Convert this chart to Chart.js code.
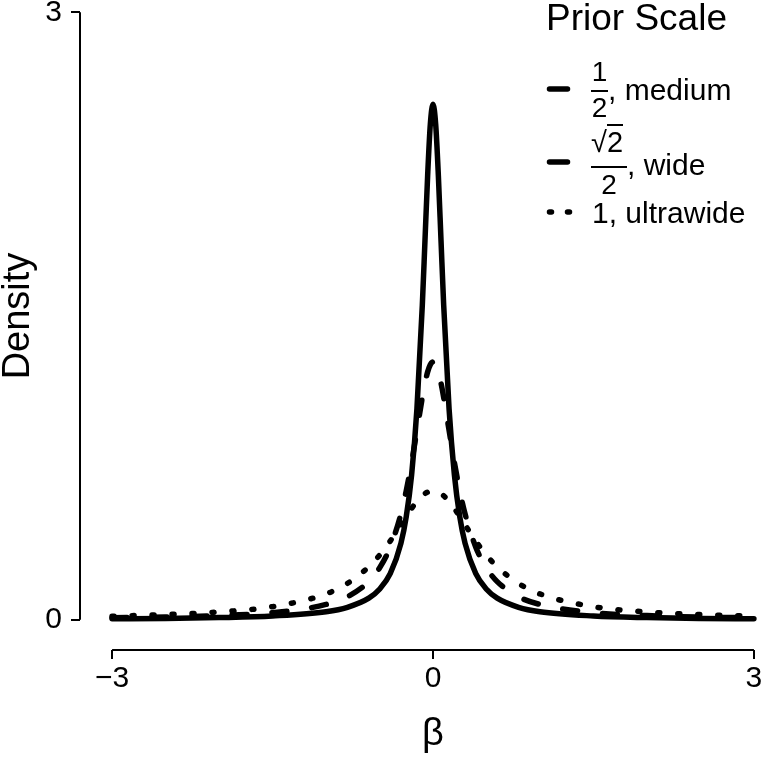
<!DOCTYPE html>
<html>
<head>
<meta charset="utf-8">
<script src="https://cdn.jsdelivr.net/npm/chart.js@4.4.1/dist/chart.umd.min.js"></script>
<style>
  html, body { margin: 0; padding: 0; background: #fff; overflow: hidden; }
  #wrap { position: relative; width: 761px; height: 758px; overflow: hidden; background: #fff; }
  #chart { position: absolute; left: 0; top: -18px; }
  .lg { position: absolute; font-family: 'Liberation Sans', Arial, Helvetica, sans-serif;
        line-height: 1; white-space: nowrap; color: #000; }
  .bar { position: absolute; background: #000; }
</style>
</head>
<body>
<div id="wrap">
  <canvas id="chart" width="800" height="776"></canvas>

  <!-- legend, drawn as plain text on top of the canvas -->
  <svg style="position:absolute;left:0;top:0" width="761" height="758">
    <line x1="549.5" y1="89" x2="567.5" y2="89" stroke="#000" stroke-width="5.5" stroke-linecap="round"/>
    <line x1="549.5" y1="162" x2="567.5" y2="162" stroke="#000" stroke-width="5.5" stroke-linecap="round"/>
    <line x1="549.5" y1="212" x2="569.5" y2="212" stroke="#000" stroke-width="5.5" stroke-linecap="round" stroke-dasharray="2 16"/>
  </svg>
  <div class="lg" style="left:546px;top:-1px;font-size:37px">Prior Scale</div>

  <div class="lg" style="left:591px;top:58px;width:17px;text-align:center;font-size:28px">1</div>
  <div class="bar" style="left:591px;top:90px;width:17px;height:2px"></div>
  <div class="lg" style="left:591px;top:94px;width:17px;text-align:center;font-size:28px">2</div>
  <div class="lg" style="left:608px;top:75px;font-size:30px">, medium</div>

  <div class="lg" style="left:591px;top:128px;font-size:29px">√<span style="border-top:2px solid #000">2</span></div>
  <div class="bar" style="left:591px;top:166px;width:36px;height:2px"></div>
  <div class="lg" style="left:591px;top:171px;width:36px;text-align:center;font-size:28px">2</div>
  <div class="lg" style="left:627px;top:150px;font-size:30px">, wide</div>

  <div class="lg" style="left:592px;top:198px;font-size:30px">1, ultrawide</div>
</div>

<script>
// Values
const beta = [-3, -2.5, -2, -1.5, -1, -0.8, -0.6, -0.5, -0.4, -0.3, -0.25, -0.2, -0.15, -0.1, -0.075, -0.05, -0.025, 0,
              0.025, 0.05, 0.075, 0.1, 0.15, 0.2, 0.25, 0.3, 0.4, 0.5, 0.6, 0.8, 1, 1.5, 2, 2.5, 3];

const medium = [0.004, 0.006, 0.010, 0.018, 0.039, 0.061, 0.106, 0.150, 0.227, 0.377, 0.509, 0.715, 1.043, 1.552, 1.872, 2.195, 2.448, 2.546,
                2.448, 2.195, 1.872, 1.552, 1.043, 0.715, 0.509, 0.377, 0.227, 0.150, 0.106, 0.061, 0.039, 0.018, 0.010, 0.006, 0.004];

const wide = [0.009, 0.013, 0.020, 0.034, 0.075, 0.113, 0.188, 0.255, 0.358, 0.522, 0.637, 0.776, 0.936, 1.097, 1.168, 1.224, 1.260, 1.273,
              1.260, 1.224, 1.168, 1.097, 0.936, 0.776, 0.637, 0.522, 0.358, 0.255, 0.188, 0.113, 0.075, 0.034, 0.020, 0.013, 0.009];

const ultrawide = [0.017, 0.025, 0.038, 0.064, 0.127, 0.179, 0.261, 0.318, 0.388, 0.468, 0.509, 0.549, 0.584, 0.612, 0.623, 0.630, 0.635, 0.637,
                   0.635, 0.630, 0.623, 0.612, 0.584, 0.549, 0.509, 0.468, 0.388, 0.318, 0.261, 0.179, 0.127, 0.064, 0.038, 0.025, 0.017];

const seriesNames = ['1/2, medium', '\u221a2/2, wide', '1, ultrawide'];
const xTicks = [-3, 0, 3];
const yTicks = [0, 3];

const FONT = "'Liberation Sans', Arial, Helvetica, sans-serif";

function toPoints(vals) {
    return vals.map((v, i) => ({ x: beta[i], y: v }));
}

function lineSet(label, vals, dash) {
    return {
        label: label,
        data: toPoints(vals),
        borderColor: '#000',
        borderWidth: 5.5,
        borderDash: dash,
        borderCapStyle: 'round',
        borderJoinStyle: 'round',
        pointRadius: 0,
        fill: false,
        cubicInterpolationMode: 'monotone'
    };
}

// R style detached axes: lines only span the tick range
const axisLines = {
    id: 'axisLines',
    afterDraw(chart) {
        const { ctx, chartArea } = chart;
        const x = chart.scales.x, y = chart.scales.y;
        ctx.save();
        ctx.strokeStyle = '#000';
        ctx.lineWidth = 2;
        ctx.beginPath();
        ctx.moveTo(chartArea.left, y.getPixelForValue(yTicks[0]));
        ctx.lineTo(chartArea.left, y.getPixelForValue(yTicks[yTicks.length - 1]));
        ctx.moveTo(x.getPixelForValue(xTicks[0]), chartArea.bottom);
        ctx.lineTo(x.getPixelForValue(xTicks[xTicks.length - 1]), chartArea.bottom);
        ctx.stroke();
        ctx.restore();
    }
};

const ctx = document.getElementById('chart').getContext('2d');
new Chart(ctx, {
    type: 'line',
    data: {
        datasets: [
            lineSet(seriesNames[0], medium, []),
            lineSet(seriesNames[1], wide, [15, 25]),
            lineSet(seriesNames[2], ultrawide, [2, 18])
        ]
    },
    options: {
        responsive: false,
        devicePixelRatio: 1,
        animation: false,
        layout: { padding: { top: 0, right: 14, bottom: 0, left: 0 } },
        plugins: {
            legend: { display: false },
            tooltip: { enabled: false }
        },
        scales: {
            x: {
                type: 'linear',
                min: -3.3,
                max: 3.3,
                afterBuildTicks: s => { s.ticks = xTicks.map(v => ({ value: v })); },
                afterFit: s => { s.height = 108; s.paddingLeft = 0; s.paddingRight = 0; },
                border: { display: false },
                grid: { display: true, drawOnChartArea: false, drawTicks: true, tickLength: 9, color: '#000', lineWidth: 2 },
                ticks: {
                    color: '#000',
                    padding: 2,
                    maxRotation: 0,
                    font: { family: FONT, size: 30, lineHeight: 1.2 },
                    callback: v => (v < 0 ? '\u2212' + Math.abs(v) : String(v))
                },
                title: {
                    display: true,
                    text: '\u03b2',
                    color: '#000',
                    font: { family: FONT, size: 38, lineHeight: 1 },
                    padding: { top: 0, bottom: 4 }
                }
            },
            y: {
                min: -0.15,
                max: 3.15,
                afterBuildTicks: s => { s.ticks = yTicks.map(v => ({ value: v })); },
                afterFit: s => { s.width = 80; s.paddingTop = 0; s.paddingBottom = 0; },
                border: { display: false },
                grid: { display: true, drawOnChartArea: false, drawTicks: true, tickLength: 9, color: '#000', lineWidth: 2 },
                ticks: {
                    color: '#000',
                    padding: 9,
                    font: { family: FONT, size: 30, lineHeight: 1.2 },
                    callback: v => String(v)
                },
                title: {
                    display: true,
                    text: 'Density',
                    color: '#000',
                    font: { family: FONT, size: 38, lineHeight: 1 },
                    padding: { top: 0, bottom: 0 }
                }
            }
        }
    },
    plugins: [axisLines]
});
</script>
</body>
</html>
